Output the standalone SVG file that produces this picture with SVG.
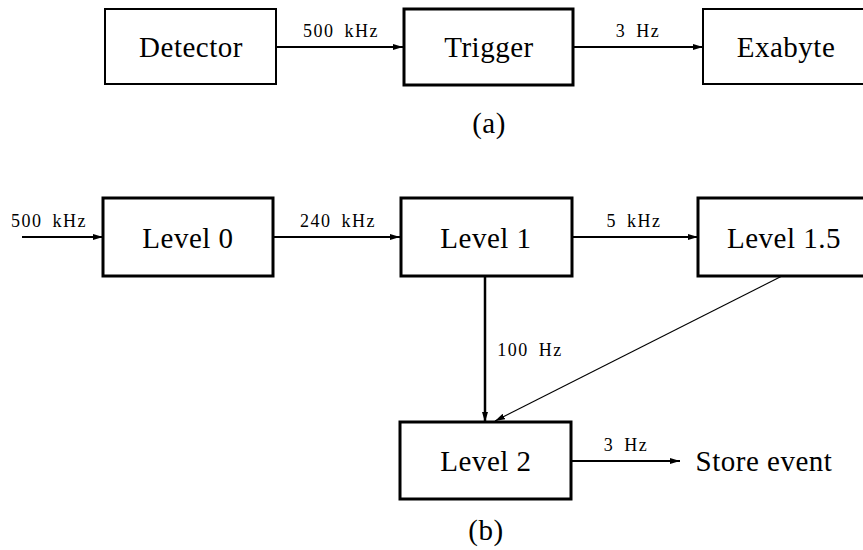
<svg xmlns="http://www.w3.org/2000/svg" width="863" height="550" viewBox="0 0 863 550">
<style>
.box{fill:#fff;stroke:#000;stroke-width:3}
.thin{stroke-width:2}
.big{font-size:29px;text-anchor:middle;fill:#000;letter-spacing:0.5px}
.lab{font-size:18px;text-anchor:middle;fill:#000;letter-spacing:1.5px;word-spacing:4px}
.ln{stroke:#000;stroke-width:2;fill:none;marker-end:url(#ah)}
</style>
<defs>
<marker id="ah" viewBox="0 0 10 6" refX="10" refY="3" markerWidth="10" markerHeight="6" markerUnits="userSpaceOnUse" orient="auto">
<path d="M0,0 L10,3 L0,6 Z" fill="#000"/>
</marker>
</defs>
<g id="connectors">
<line class="ln" x1="276" y1="47" x2="403" y2="47"/>
<line class="ln" x1="573" y1="47" x2="703" y2="47"/>
<line class="ln" x1="22" y1="237" x2="103" y2="237"/>
<line class="ln" x1="273" y1="237" x2="400" y2="237"/>
<line class="ln" x1="572" y1="237" x2="698" y2="237"/>
<line class="ln" x1="485" y1="276" x2="485" y2="422" style="stroke-width:2.5"/>
<line class="ln" x1="782" y1="276" x2="495" y2="421" style="stroke-width:1.2"/>
<line class="ln" x1="571" y1="461" x2="680" y2="461"/>
<g font-family="Liberation Serif, serif">
<text class="lab" x="341" y="37">500 kHz</text>
<text class="lab" x="638" y="37">3 Hz</text>
<text class="lab" x="49" y="227">500 kHz</text>
<text class="lab" x="338" y="227">240 kHz</text>
<text class="lab" x="634" y="227">5 kHz</text>
<text class="lab" x="530" y="356">100 Hz</text>
<text class="lab" x="626" y="451">3 Hz</text>
</g>
</g>
<g font-family="Liberation Serif, serif">
<g id="detector"><rect class="box thin" x="105" y="9" width="171" height="75"/><text class="big" x="191" y="57">Detector</text></g>
<g id="trigger"><rect class="box" x="404" y="9" width="169" height="76"/><text class="big" x="489" y="57">Trigger</text></g>
<g id="exabyte"><rect class="box thin" x="703" y="9" width="170" height="75"/><text class="big" x="786" y="57">Exabyte</text></g>
<text class="big" x="489" y="133">(a)</text>
<g id="level0"><rect class="box" x="103" y="198" width="170" height="78"/><text class="big" x="188" y="248">Level 0</text></g>
<g id="level1"><rect class="box" x="401" y="198" width="171" height="78"/><text class="big" x="486" y="248">Level 1</text></g>
<g id="level15"><rect class="box" x="698" y="198" width="175" height="78"/><text class="big" x="784" y="248">Level 1.5</text></g>
<g id="level2"><rect class="box" x="400" y="422" width="171" height="77"/><text class="big" x="486" y="471">Level 2</text></g>
<g id="store"><text class="big" x="764" y="471" letter-spacing="1">Store event</text></g>
<text class="big" x="486" y="540">(b)</text>
</g>
</svg>
